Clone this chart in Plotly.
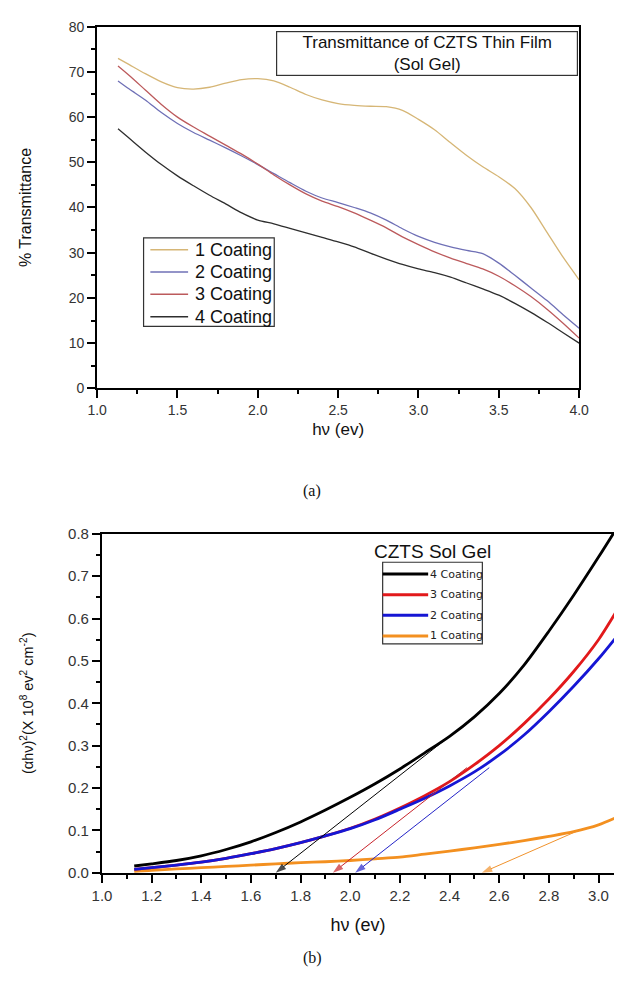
import plotly.graph_objects as go

W, H = 624, 982

# ---------- (a) optical transmittance ----------
hv_a = [1.13, 1.2, 1.3, 1.4, 1.5, 1.6, 1.7, 1.8, 1.9, 2.0, 2.1, 2.2, 2.3, 2.4, 2.5,
        2.6, 2.7, 2.8, 2.9, 3.0, 3.1, 3.2, 3.3, 3.4, 3.5, 3.6, 3.7, 3.8, 3.9, 4.0]
trans_1 = [73.0, 71.6, 69.6, 67.8, 66.5, 66.2, 66.6, 67.5, 68.3, 68.5, 68.0, 66.6, 65.0, 63.8, 63.0,
           62.6, 62.4, 62.3, 61.5, 59.5, 57.2, 54.3, 51.5, 49.0, 46.8, 44.2, 40.0, 34.5, 29.0, 24.0]
trans_2 = [68.0, 66.2, 63.8, 61.0, 58.6, 56.6, 54.9, 53.2, 51.4, 49.5, 47.5, 45.5, 43.6, 42.1, 41.1,
           40.0, 38.8, 37.2, 35.3, 33.6, 32.3, 31.3, 30.5, 29.8, 27.7, 25.0, 22.2, 19.4, 16.3, 13.3]
trans_3 = [71.3, 69.2, 66.0, 62.8, 60.0, 57.8, 55.8, 53.8, 51.8, 49.6, 47.2, 45.0, 43.0, 41.4, 40.2,
           38.8, 37.2, 35.5, 33.5, 31.8, 30.2, 28.8, 27.6, 26.4, 24.8, 22.7, 20.3, 17.5, 14.4, 11.1]
trans_4 = [57.4, 55.3, 52.3, 49.5, 47.0, 44.8, 42.7, 40.8, 38.8, 37.2, 36.4, 35.4, 34.4, 33.4, 32.4,
           31.3, 29.9, 28.6, 27.4, 26.4, 25.6, 24.6, 23.3, 22.0, 20.6, 18.8, 16.8, 14.6, 12.3, 10.0]

names_a = ["1 Coating", "2 Coating", "3 Coating", "4 Coating"]
colors_a = ["#D6B676", "#6F70B6", "#BC5A5C", "#2E2E2E"]

# ---------- (b) Tauc plot (alpha*hv)^2 ----------
hv_b = [1.13, 1.2, 1.3, 1.4, 1.5, 1.6, 1.7, 1.8, 1.9, 2.0, 2.1, 2.2, 2.3, 2.4, 2.5,
        2.6, 2.7, 2.8, 2.9, 3.0, 3.07]
tauc_4 = [0.016, 0.021, 0.029, 0.040, 0.055, 0.073, 0.095, 0.120, 0.148, 0.178, 0.210,
          0.245, 0.283, 0.322, 0.368, 0.423, 0.490, 0.570, 0.655, 0.745, 0.810]
tauc_3 = [0.008, 0.012, 0.018, 0.025, 0.034, 0.045, 0.057, 0.071, 0.087, 0.105, 0.127,
          0.153, 0.182, 0.215, 0.255, 0.300, 0.352, 0.410, 0.475, 0.550, 0.615]
tauc_2 = [0.008, 0.012, 0.018, 0.025, 0.034, 0.045, 0.057, 0.071, 0.087, 0.104, 0.125,
          0.150, 0.176, 0.205, 0.238, 0.278, 0.325, 0.380, 0.440, 0.505, 0.555]
tauc_1 = [0.003, 0.006, 0.009, 0.012, 0.015, 0.018, 0.021, 0.024, 0.026, 0.029, 0.033,
          0.037, 0.044, 0.051, 0.059, 0.067, 0.076, 0.086, 0.097, 0.113, 0.130]

names_b = ["4 Coating", "3 Coating", "2 Coating", "1 Coating"]
colors_b = ["#000000", "#E2191B", "#1616D4", "#F39020"]
arrow_colors = ["#000000", "#C8232B", "#2424C8", "#F0922C"]

# linear extrapolation: upper point on the tangent and band gap intercept
tangent_hv = [2.40, 2.47, 2.56, 2.92]
tangent_val = [0.322, 0.248, 0.248, 0.100]
gap_ev = [1.70, 1.93, 2.02, 2.53]


def px(x):
    return x / W


def py(y):
    return 1 - y / H


fig = go.Figure()

for name, vals, col in zip(names_a, [trans_1, trans_2, trans_3, trans_4], colors_a):
    fig.add_trace(go.Scatter(x=hv_a, y=vals, name=name, mode="lines",
                             line=dict(color=col, width=1.3, shape="spline", smoothing=0.8),
                             xaxis="x", yaxis="y", showlegend=False))

# draw order: orange, black, red, blue on top
series_b = [tauc_4, tauc_3, tauc_2, tauc_1]
for idx in [3, 0, 1, 2]:
    fig.add_trace(go.Scatter(x=hv_b, y=series_b[idx], name=names_b[idx], mode="lines",
                             line=dict(color=colors_b[idx], width=2.8, shape="spline", smoothing=0.8),
                             xaxis="x2", yaxis="y2", showlegend=False))

# tangent extrapolations to the energy axis, arrowhead at the intercept
for name, tx, ty, eg, col in zip(names_b, tangent_hv, tangent_val, gap_ev, arrow_colors):
    fig.add_trace(go.Scatter(x=[tx, eg], y=[ty, 0.0], mode="lines+markers", name=name + " fit",
                             line=dict(color=col, width=1),
                             marker=dict(symbol="arrow", angleref="previous", size=[0, 11], color=col,
                                         line=dict(width=0)),
                             xaxis="x2", yaxis="y2", showlegend=False, cliponaxis=False))

tick_font_a = dict(family="Liberation Sans, Arial", size=14, color="#333333")
tick_font_b = dict(family="Liberation Sans, Arial", size=15, color="#333333")
common = dict(showline=True, linecolor="black", linewidth=2, showgrid=False, zeroline=False,
              ticks="outside", tickcolor="black", tickwidth=2, ticklen=8)

fig.update_layout(
    width=W, height=H, margin=dict(l=0, r=0, t=0, b=0),
    paper_bgcolor="white", plot_bgcolor="white",
    xaxis=dict(domain=[px(90), px(588)], range=[1.0, 4.0], anchor="y", mirror=True,
               tick0=1.0, dtick=0.5, tickformat=".1f", tickfont=tick_font_a,
               minor=dict(ticks="outside", ticklen=4, tickwidth=1.5, tickcolor="black", dtick=0.25),
               title=dict(text="hν (ev)", font=dict(family="Liberation Sans, Arial", size=17, color="#111"),
                          standoff=6), **common),
    yaxis=dict(domain=[py(386), py(18)], range=[0, 80], anchor="x", mirror=True,
               tick0=0, dtick=10, tickfont=tick_font_a,
               minor=dict(ticks="outside", ticklen=4, tickwidth=1.5, tickcolor="black", dtick=5),
               title=dict(text="% Transmittance", font=dict(family="Liberation Sans, Arial", size=16, color="#111"),
                          standoff=33), **common),
    xaxis2=dict(domain=[px(95), 1.0], range=[1.0, 1 + (624 - 95) / 256.5], anchor="y2", mirror=True,
                tick0=1.0, dtick=0.2, tickformat=".1f", tickfont=tick_font_b,
                minor=dict(ticks="outside", ticklen=4, tickwidth=1.5, tickcolor="black", dtick=0.1),
                title=dict(text="hν (ev)", font=dict(family="Liberation Sans, Arial", size=18, color="#111"),
                           standoff=16), **common),
    yaxis2=dict(domain=[py(879), py(534)], range=[0, 0.8], anchor="x2", mirror=False,
                tick0=0, dtick=0.1, tickformat=".1f", tickfont=tick_font_b,
                minor=dict(ticks="outside", ticklen=4, tickwidth=1.5, tickcolor="black", dtick=0.05),
                title=dict(text="(αhν)<sup>2</sup>(X 10<sup>8</sup> ev<sup>2</sup> cm<sup>-2</sup>)",
                           font=dict(family="Liberation Sans, Arial", size=14.5, color="#111"),
                           standoff=31), **common),
)

shapes = []
annotations = []

# title box of panel (a)
annotations.append(dict(xref="paper", yref="paper", x=px(431), y=py(45.5), xanchor="center", yanchor="middle",
                        text="Transmittance of CZTS Thin Film<br>(Sol Gel)", showarrow=False, align="center",
                        width=300, height=43, borderpad=0, bordercolor="#333", borderwidth=1.2,
                        font=dict(family="Liberation Sans, Arial", size=17, color="#111")))

# legend of panel (a)
shapes.append(dict(type="rect", xref="paper", yref="paper", x0=px(138), x1=px(273), y0=py(323), y1=py(233),
                   line=dict(color="#333", width=1.2), fillcolor="rgba(0,0,0,0)"))
for i, (name, col) in enumerate(zip(names_a, colors_a)):
    yy = 245 + i * 22.7
    shapes.append(dict(type="line", xref="paper", yref="paper", x0=px(145), x1=px(184), y0=py(yy), y1=py(yy),
                       line=dict(color=col, width=1.5)))
    annotations.append(dict(xref="paper", yref="paper", x=px(189), y=py(yy), xanchor="left", yanchor="middle",
                            text=name, showarrow=False,
                            font=dict(family="Liberation Sans, Arial", size=18, color="#111")))

# heading and legend of panel (b)
annotations.append(dict(xref="paper", yref="paper", x=px(437), y=py(552), xanchor="center", yanchor="middle",
                        text="CZTS Sol Gel", showarrow=False,
                        font=dict(family="Liberation Sans, Arial", size=19, color="#111")))
shapes.append(dict(type="rect", xref="paper", yref="paper", x0=px(385), x1=px(488), y0=py(646), y1=py(563),
                   line=dict(color="#333", width=1.2), fillcolor="rgba(0,0,0,0)"))
for i, (name, col) in enumerate(zip(names_b, colors_b)):
    yy = 575 + i * 21
    shapes.append(dict(type="line", xref="paper", yref="paper", x0=px(385), x1=px(432), y0=py(yy), y1=py(yy),
                       line=dict(color=col, width=3)))
    annotations.append(dict(xref="paper", yref="paper", x=px(432), y=py(yy), xanchor="left", yanchor="middle",
                            text=name, showarrow=False,
                            font=dict(family="DejaVu Sans", size=11, color="#222")))

# panel captions
for cap, yy in [("(a)", 490), ("(b)", 966)]:
    annotations.append(dict(xref="paper", yref="paper", x=px(312), y=py(yy), xanchor="center", yanchor="middle",
                            text=cap, showarrow=False,
                            font=dict(family="Liberation Serif, Times New Roman", size=16, color="#111")))

fig.update_layout(shapes=shapes, annotations=annotations)
fig.write_html("out.html")
